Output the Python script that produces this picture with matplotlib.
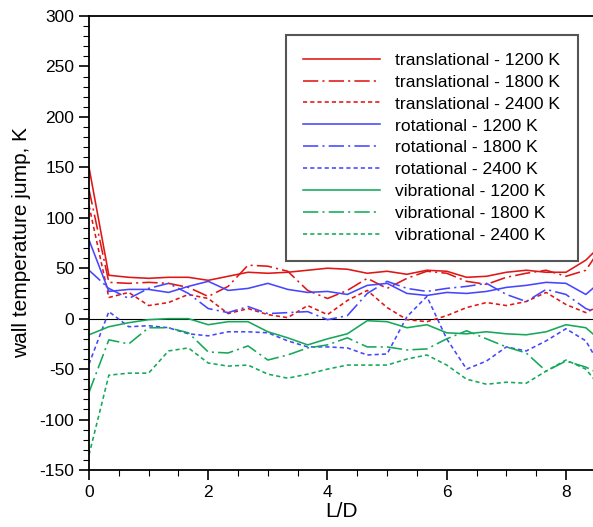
import matplotlib
matplotlib.use("Agg")
import matplotlib.pyplot as plt
from matplotlib.ticker import MultipleLocator

plt.rcParams.update({
    "font.family": ["Liberation Sans", "DejaVu Sans"],
    "lines.scale_dashes": False,
    "axes.unicode_minus": False,
})

# L/D stations (every 1/3 of a diameter, last one at the end of the domain)
LD = [0.0, 0.333, 0.667, 1.0, 1.333, 1.667, 2.0, 2.333, 2.667, 3.0, 3.333,
      3.667, 4.0, 4.333, 4.667, 5.0, 5.333, 5.667, 6.0, 6.333, 6.667, 7.0,
      7.333, 7.667, 8.0, 8.333, 8.47]

trans_1200 = [150, 43, 41, 40, 41, 41, 38, 42, 46, 45, 46, 48, 50, 49, 45,
              47, 44, 48, 47, 41, 42, 46, 48, 46, 46, 58, 66]
trans_1800 = [128, 36, 35, 36, 35, 31, 22, 32, 53, 52, 47, 28, 20, 28, 40,
              30, 40, 47, 45, 37, 34, 41, 45, 48, 42, 48, 60]
trans_2400 = [112, 21, 26, 13, 16, 24, 20, 5, 10, 4, 1, 13, 4, 18, 28,
              11, -1, -3, 3, 11, 16, 13, 17, 26, 14, 6, 10]

rot_1200 = [78, 27, 29, 29, 26, 32, 37, 28, 30, 35, 29, 26, 27, 24, 33,
            35, 25, 23, 26, 25, 27, 31, 33, 36, 35, 24, 31]
rot_1800 = [48, 30, 20, 30, 35, 25, 10, 6, 12, 5, 6, 7, -1, 3, 25,
            37, 30, 27, 30, 32, 35, 24, 17, 29, 24, 10, 7]
rot_2400 = [-45, 7, -8, -7, -9, -15, -17, -13, -13, -14, -22, -28, -28, -29, -36,
            -35, 2, 22, -20, -50, -42, -28, -32, -22, -10, -22, -36]

vib_1200 = [-16, -8, -4, -1, 0, 0, -6, -3, -3, -13, -19, -26, -20, -15, -2,
            -3, -9, -6, -14, -15, -13, -15, -16, -13, -6, -9, -16]
vib_1800 = [-73, -21, -25, -9, -9, -14, -33, -34, -27, -41, -36, -29, -26, -19, -28,
            -28, -31, -30, -20, -12, -20, -28, -34, -52, -42, -48, -52]
vib_2400 = [-135, -56, -54, -54, -32, -29, -44, -47, -46, -55, -59, -55, -50, -46, -46,
            -46, -40, -36, -46, -60, -65, -63, -64, -52, -41, -50, -60]

RED, BLUE, GREEN = "#e01515", "#4646ff", "#14a85a"
SOLID = "-"
DASHDOT = (0, (11, 3, 1.5, 3))
DOTTED = (0, (3, 2.2))

series = [
    (trans_1200, RED, SOLID, "translational - 1200 K"),
    (trans_1800, RED, DASHDOT, "translational - 1800 K"),
    (trans_2400, RED, DOTTED, "translational - 2400 K"),
    (rot_1200, BLUE, SOLID, "rotational - 1200 K"),
    (rot_1800, BLUE, DASHDOT, "rotational - 1800 K"),
    (rot_2400, BLUE, DOTTED, "rotational - 2400 K"),
    (vib_1200, GREEN, SOLID, "vibrational - 1200 K"),
    (vib_1800, GREEN, DASHDOT, "vibrational - 1800 K"),
    (vib_2400, GREEN, DOTTED, "vibrational - 2400 K"),
]

fig = plt.figure(figsize=(5.93, 5.27), dpi=100)
ax = fig.add_axes([89 / 593, 57 / 527, 505 / 593, 454 / 527])

ax.axhline(0, color="black", lw=0.8, zorder=1)
for y, c, ls, lab in series:
    ax.plot(LD, y, color=c, linestyle=ls, lw=1.15, label=lab, zorder=2)

ax.set_xlim(0, 8.47)
ax.set_ylim(-150, 300)
ax.xaxis.set_major_locator(MultipleLocator(2))
ax.xaxis.set_minor_locator(MultipleLocator(0.5))
ax.yaxis.set_major_locator(MultipleLocator(50))
ax.yaxis.set_minor_locator(MultipleLocator(10))
ax.tick_params(which="major", length=7, width=1.2, labelsize=12.5, direction="out")
ax.tick_params(which="minor", length=4, width=0.8, direction="out")
for s in ax.spines.values():
    s.set_linewidth(1.3)

ax.set_xlabel("L/D", fontsize=15, labelpad=2)
ax.set_ylabel("wall temperature jump, K", fontsize=15, labelpad=6)

leg = ax.legend(loc="upper right", bbox_to_anchor=(0.968, 0.958), borderaxespad=0,
                fontsize=12.6, handlelength=4.4, handletextpad=0.85,
                labelspacing=0.38, borderpad=1.0, fancybox=False,
                framealpha=1, edgecolor="#555555")
leg.get_frame().set_linewidth(1.5)

fig.savefig("out.png", dpi=100)
